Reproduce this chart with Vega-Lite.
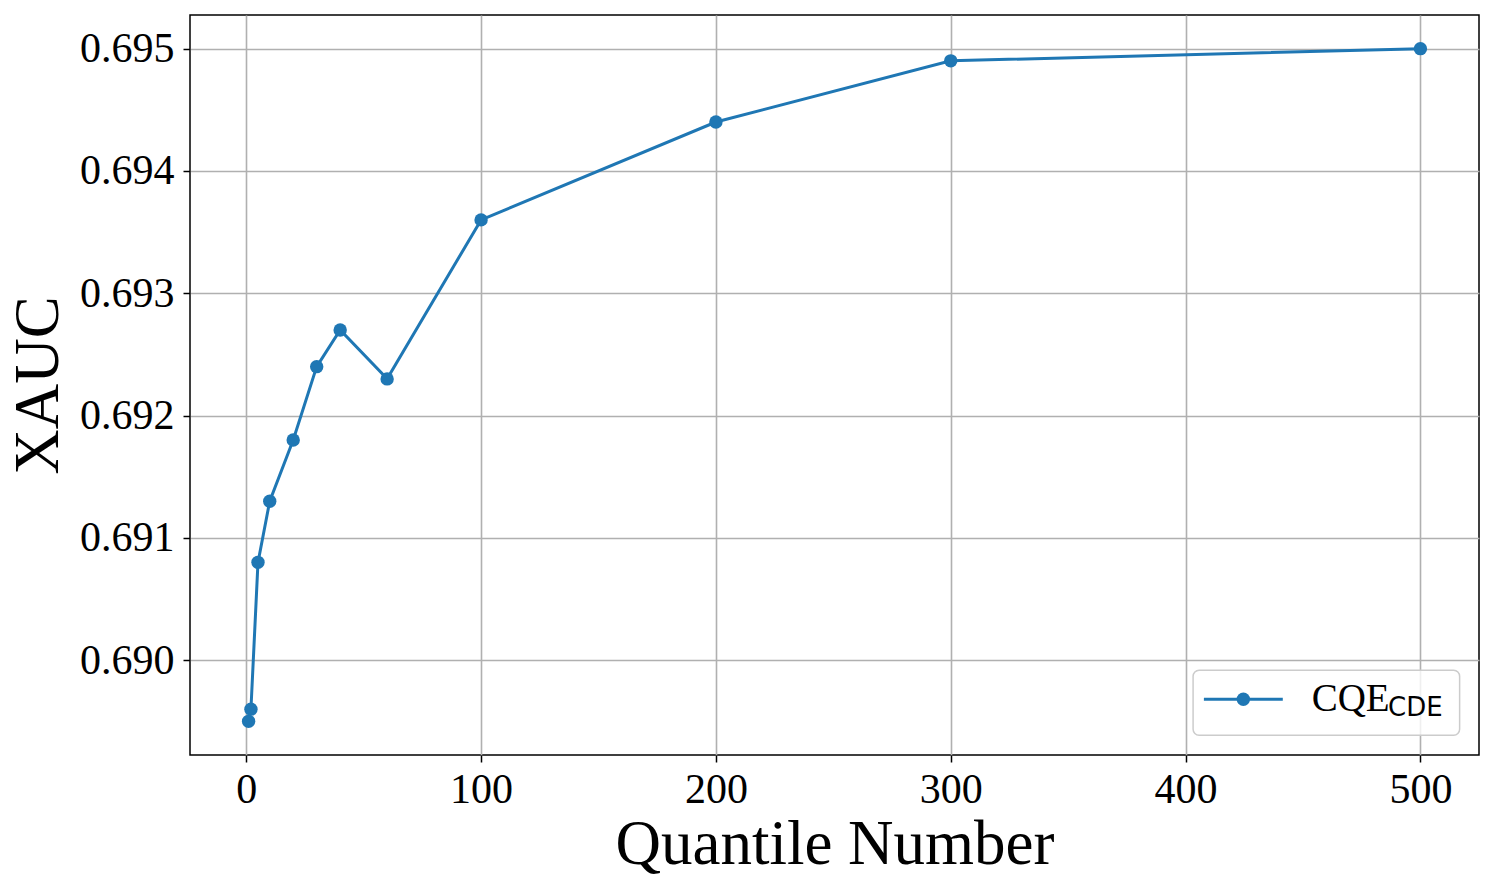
{
  "$schema": "https://vega.github.io/schema/vega-lite/v6.json",
  "width": 1289,
  "height": 740,
  "autosize": {"type": "none"},
  "padding": {"left": 190, "top": 15, "right": 15, "bottom": 134},
  "background": "white",
  "config": {
    "view": {"stroke": "black", "strokeWidth": 1.5},
    "axis": {
      "domain": false,
      "grid": true,
      "gridColor": "#b0b0b0",
      "gridWidth": 1.6,
      "tickColor": "black",
      "tickWidth": 1.5,
      "tickSize": 7,
      "labelFont": "Liberation Serif",
      "labelFontSize": 42,
      "labelColor": "black",
      "titleFont": "Liberation Serif",
      "titleFontSize": 63,
      "titleFontWeight": "normal",
      "titleColor": "black"
    }
  },
  "datasets": {
    "main": [
      {"q": 1, "xauc": 0.6895},
      {"q": 2, "xauc": 0.6896},
      {"q": 5, "xauc": 0.6908},
      {"q": 10, "xauc": 0.6913},
      {"q": 20, "xauc": 0.6918},
      {"q": 30, "xauc": 0.6924},
      {"q": 40, "xauc": 0.6927},
      {"q": 60, "xauc": 0.6923},
      {"q": 100, "xauc": 0.6936},
      {"q": 200, "xauc": 0.6944},
      {"q": 300, "xauc": 0.6949},
      {"q": 500, "xauc": 0.6950}
    ],
    "legend": [{"series": "CQE", "sub": "CDE"}]
  },
  "layer": [
    {
      "data": {"name": "main"},
      "mark": {"type": "line", "strokeWidth": 3, "color": "#1f77b4"},
      "encoding": {
        "x": {
          "field": "q",
          "type": "quantitative",
          "scale": {"domain": [-23.95, 524.95], "nice": false, "zero": false},
          "axis": {"values": [0, 100, 200, 300, 400, 500], "title": "Quantile Number", "labelPadding": 7, "titlePadding": 3}
        },
        "y": {
          "field": "xauc",
          "type": "quantitative",
          "scale": {"domain": [0.689225, 0.695275], "nice": false, "zero": false},
          "axis": {"values": [0.690, 0.691, 0.692, 0.693, 0.694, 0.695], "format": ".3f", "title": "XAUC", "labelPadding": 9, "titlePadding": 9}
        }
      }
    },
    {
      "data": {"name": "main"},
      "mark": {"type": "point", "filled": true, "size": 180, "color": "#1f77b4", "opacity": 1},
      "encoding": {
        "x": {"field": "q", "type": "quantitative"},
        "y": {"field": "xauc", "type": "quantitative"}
      }
    },
    {
      "data": {"name": "legend"},
      "mark": {"type": "rect", "fill": "white", "fillOpacity": 0.8, "stroke": "#cccccc", "strokeWidth": 1.5, "cornerRadius": 6},
      "encoding": {
        "x": {"datum": 403.2, "type": "quantitative"},
        "x2": {"datum": 516.7},
        "y": {"datum": 0.689918, "type": "quantitative"},
        "y2": {"datum": 0.689387}
      }
    },
    {
      "data": {"name": "legend"},
      "mark": {"type": "rule", "strokeWidth": 3, "color": "#1f77b4"},
      "encoding": {
        "x": {"datum": 407.8, "type": "quantitative"},
        "x2": {"datum": 441.4},
        "y": {"datum": 0.689681, "type": "quantitative"}
      }
    },
    {
      "data": {"name": "legend"},
      "mark": {"type": "point", "filled": true, "size": 180, "color": "#1f77b4", "opacity": 1},
      "encoding": {
        "x": {"datum": 424.6, "type": "quantitative"},
        "y": {"datum": 0.689681, "type": "quantitative"}
      }
    },
    {
      "data": {"name": "legend"},
      "mark": {"type": "text", "font": "Liberation Serif", "fontSize": 39, "align": "left", "baseline": "alphabetic", "color": "black"},
      "encoding": {
        "x": {"datum": 453.7, "type": "quantitative"},
        "y": {"datum": 0.689587, "type": "quantitative"},
        "text": {"field": "series"}
      }
    },
    {
      "data": {"name": "legend"},
      "mark": {"type": "text", "font": "DejaVu Sans", "fontSize": 26, "align": "left", "baseline": "alphabetic", "color": "black"},
      "encoding": {
        "x": {"datum": 486.2, "type": "quantitative"},
        "y": {"datum": 0.689542, "type": "quantitative"},
        "text": {"field": "sub"}
      }
    }
  ]
}
